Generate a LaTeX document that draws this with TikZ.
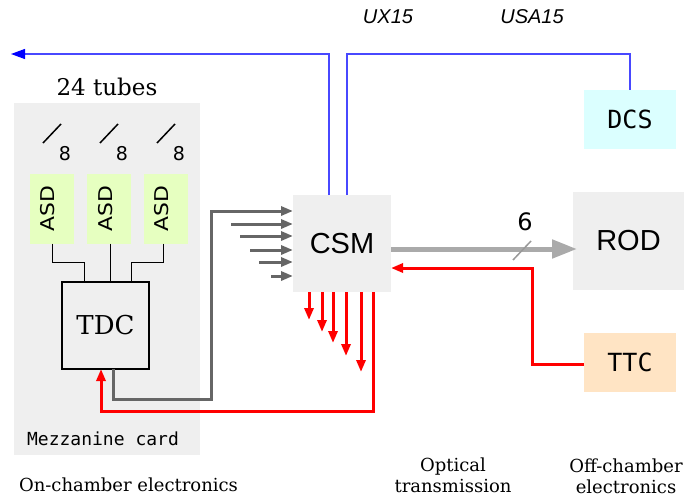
\documentclass[tikz,border=0pt]{standalone}
\usepackage{fontspec}
\setmainfont{DejaVu Serif}
\newfontfamily\dvsans{DejaVu Sans}
\newfontfamily\lsans{Liberation Sans}
\newfontfamily\dvmono{DejaVu Sans Mono}
\usepackage{graphicx}
\usetikzlibrary{arrows.meta,calc}
\definecolor{cardbg}{HTML}{EFEFEF}
\definecolor{asdfill}{HTML}{E6FFC0}
\definecolor{dcsfill}{HTML}{DBFFFF}
\definecolor{ttcfill}{HTML}{FFE4C4}
\definecolor{grayarrow}{HTML}{666666}
\definecolor{thickgray}{HTML}{AAAAAA}
\definecolor{slashgray}{HTML}{999999}
\definecolor{bwirecol}{HTML}{4848FF}
\newcommand\setfs[1]{\fontsize{#1}{#1}\selectfont}
\begin{document}
\begin{tikzpicture}[x=1pt,y=-1pt,
  plain/.style={inner sep=0pt,outer sep=0pt},
  asdbox/.style={plain,fill=asdfill,minimum width=44pt,minimum height=70pt,font=\dvsans\setfs{19}},
  greybox/.style={plain,fill=cardbg,font=\lsans\setfs{29}},
  colbox/.style={plain,minimum width=92pt,minimum height=59pt,font=\dvmono\setfs{25}},
  wire/.style={draw=black,line width=1pt},
  garrow/.style={draw=grayarrow,line width=3pt,-{Triangle[length=12pt,width=9pt]}},
  rarrow/.style={draw=red,line width=3pt,-{Triangle[length=12pt,width=9pt]}},
  bwire/.style={draw=bwirecol,line width=1.2pt},
  lbl/.style={plain,align=center,font=\fontsize{18}{21}\selectfont},
  zone/.style={plain,font=\lsans\itshape\setfs{20}}
]
\useasboundingbox (0,0) rectangle (684,500);

% mezzanine card
\node[plain,fill=cardbg,minimum width=186pt,minimum height=352pt] (card) at (107,279) {};
\node[plain,font=\dvmono\setfs{18}] (mezz) at (103,439) {Mezzanine card};
\node[plain,font=\setfs{23}] (tubes) at (107,87) {24 tubes};

% ASDs
\node[asdbox] (asd1) at (51.5,208.5) {\rotatebox{90}{\rule[-8pt]{0pt}{8pt}\scalebox{1.15}[1]{ASD}}};
\node[asdbox] (asd2) at (109,208.5) {\rotatebox{90}{\rule[-8pt]{0pt}{8pt}\scalebox{1.15}[1]{ASD}}};
\node[asdbox] (asd3) at (165.5,208.5) {\rotatebox{90}{\rule[-8pt]{0pt}{8pt}\scalebox{1.15}[1]{ASD}}};

% bus slashes
\foreach \dx/\n in {0/1,57/2,114/3}{
  \draw[line width=1.5pt] (43+\dx,143) -- (61+\dx,124);
  \node[plain,font=\dvsans\setfs{19}] (eight\n) at (65+\dx,154) {8};
}

% TDC
\node[plain,draw=black,line width=1.5pt,fill=cardbg,minimum width=87pt,minimum height=87pt,font=\setfs{26}] (tdc) at (105.5,325.5) {TDC};

\draw[wire] ([xshift=0.5pt]asd1.south) -- ++(0,19) -| ([xshift=-21.5pt]tdc.north);
\draw[wire] ([xshift=1pt]asd2.south) -- ([xshift=4.5pt]tdc.north);
\draw[wire] ([xshift=-2.5pt]asd3.south) -- ++(0,19) -| ([xshift=25.5pt]tdc.north);

% CSM, ROD
\node[greybox,minimum width=98pt,minimum height=97pt] (csm) at (342,243.5) {CSM};
\node[greybox,minimum width=111pt,minimum height=98pt] (rod) at (628.5,241) {ROD};

% DCS, TTC
\node[colbox,fill=dcsfill] (dcs) at (630,119.5) {DCS};
\node[colbox,fill=ttcfill] (ttc) at (630,362.5) {TTC};

% gray inputs to CSM
\draw[garrow] ([xshift=7.5pt]tdc.south) -- ++(0,30) -| (211,230) |- ([yshift=32.5pt]csm.west);
\foreach \sx/\sy/\n in {231/224/1,240/236/2,250/250/3,259/262/4,271/276/5}{
  \coordinate (g\n) at (\sx,\sy);
  \draw[garrow] (g\n) -- (g\n -| csm.west);
}

% red outputs from CSM
\foreach \ox/\len in {-33/28,-20/40,-9/51,4/64,19/80}{
  \draw[rarrow] ([xshift=\ox pt]csm.south) -- ++(0,\len);
}
\draw[rarrow] ([xshift=31pt]csm.south) -- ++(0,119) -| ([xshift=-4.5pt]tdc.south);

% TTC to CSM
\draw[rarrow] ([yshift=-1.5pt]ttc.west) -- ++(-52,0) |- ([yshift=-24.5pt]csm.east);

% CSM to ROD
\coordinate (tp) at ([yshift=-5.5pt]csm.east);
\draw[draw=thickgray,line width=5pt,-{Triangle[length=25pt,width=18pt]},shorten >=-4pt] (tp) -- (tp -| rod.west);
\draw[draw=slashgray,line width=1.5pt] (513,260) -- (531,241);
\node[plain,font=\dvsans\setfs{24}] (six) at (525,222) {6};

% DCS lines
\coordinate (west) at (11,54);
\draw[bwire,-{Triangle[length=14pt,width=10pt,color=blue,fill=blue]}] ([xshift=-13pt]csm.north) |- (west);
\draw[bwire] ([xshift=5pt]csm.north) -- ++(0,-141) -| (dcs.north);

% zone labels
\node[zone] (ux) at (388,17) {UX15};
\node[zone] (usa) at (532,17) {USA15};

\node[lbl] (onch) at (128.5,485) {On-chamber electronics};
\node[lbl] (opt) at (453,475) {Optical\\transmission};
\node[lbl] (offch) at (626,476) {Off-chamber\\electronics};
\end{tikzpicture}
\end{document}
